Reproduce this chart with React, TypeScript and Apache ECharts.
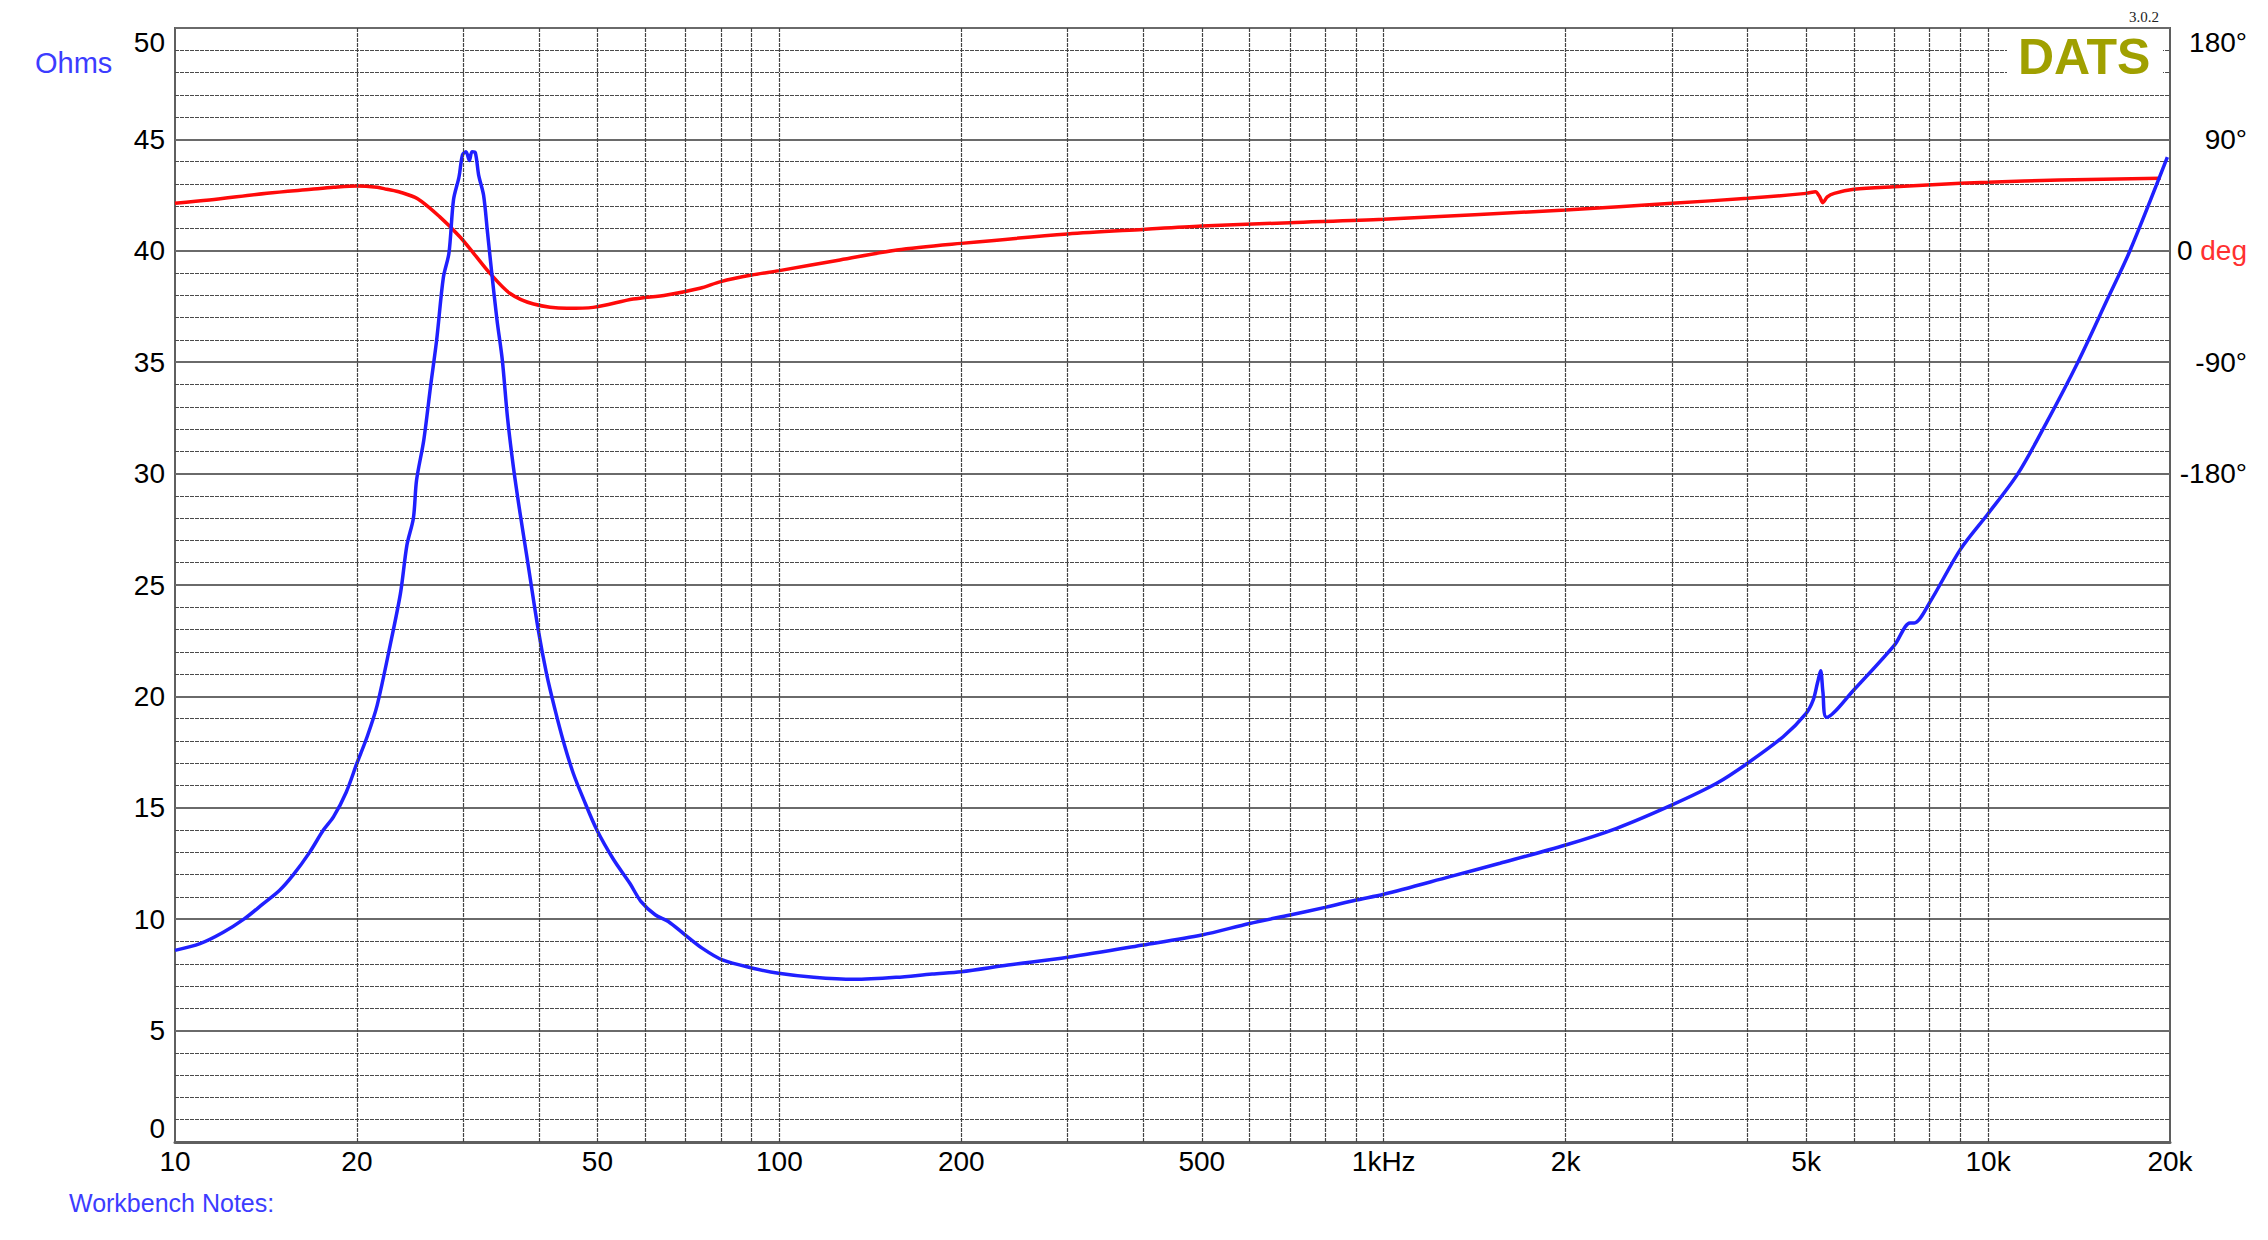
import React, { useEffect, useRef } from 'react';
import * as echarts from 'echarts';

// Impedance magnitude (blue), frequency in Hz and ohms
const IMP_FREQ = [10, 11, 12, 13, 14, 14.9, 15.7, 16.7, 17.6, 18.3, 19.2, 20, 20.8, 21.6, 22.7, 23.6, 24.2, 24.8, 25.1, 25.8, 26.5, 27.1, 27.8, 28.4, 28.9, 29.5, 29.9, 30.3, 30.7, 31.0, 31.4, 31.8, 32.4, 32.9, 33.4, 34.1, 34.8, 35.5, 36.3, 37.2, 38.2, 39.9, 41.2, 42.5, 43.9, 45.6, 47.4, 49.9, 53.1, 56.6, 59.0, 62.3, 65.5, 69.8, 74.5, 80.5, 90.4, 99.7, 114, 133, 156, 179, 200, 239, 300, 400, 500, 600, 700, 800, 900, 1000, 1287, 1557, 2000, 2429, 3000, 3556, 4000, 4581, 5000, 5137, 5220, 5284, 5330, 5405, 6000, 7000, 7424, 7550, 8000, 9000, 10000, 11205, 12500, 14080, 15740, 17170, 19800];
const IMP_OHMS = [8.6, 8.9, 9.4, 10.0, 10.7, 11.3, 12.0, 13.0, 14.0, 14.6, 15.7, 17.0, 18.2, 19.6, 22.3, 24.6, 26.8, 28.0, 29.7, 31.5, 34.0, 36.0, 38.8, 39.9, 42.3, 43.3, 44.3, 44.45, 44.05, 44.45, 44.4, 43.4, 42.5, 40.8, 39.1, 36.9, 35.1, 32.5, 30.3, 28.3, 26.3, 23.0, 21.0, 19.45, 18.0, 16.55, 15.4, 14.0, 12.7, 11.6, 10.8, 10.2, 9.9, 9.3, 8.7, 8.17, 7.8, 7.57, 7.39, 7.30, 7.39, 7.54, 7.64, 7.94, 8.29, 8.84, 9.29, 9.81, 10.19, 10.53, 10.86, 11.12, 11.91, 12.51, 13.33, 14.08, 15.13, 16.1, 17.0, 18.19, 19.24, 19.84, 20.6, 21.15, 20.2, 19.06, 20.3, 22.3, 23.3, 23.3, 24.2, 26.6, 28.2, 30.0, 32.3, 35.0, 37.8, 40.0, 44.2];

// Phase (red), frequency in Hz and degrees
const PH_FREQ = [10, 11.4, 14.2, 16.8, 18.3, 20, 21.6, 22.4, 23.6, 25.2, 27.4, 29.6, 31.2, 33.2, 35.8, 39.2, 44.5, 49.2, 57.3, 65.1, 73.9, 80, 90, 100, 126, 156.5, 200, 300, 400, 500, 700, 1000, 2000, 3000, 4000, 5000, 5181, 5260, 5331, 5420, 5566, 6000, 7000, 9000, 10000, 13120, 19300];
const PH_DEG = [38.4, 41.0, 46.5, 49.7, 51.3, 52.4, 51.3, 49.7, 47.3, 42.0, 27.6, 11.4, -2.0, -18.2, -34.3, -43.0, -46.5, -45.7, -39.0, -35.7, -30.3, -24.9, -19.6, -16.0, -7.4, 0.6, 6.0, 13.6, 17.3, 20.0, 22.7, 25.4, 33.0, 38.4, 42.4, 46.4, 47.8, 44.0, 38.9, 43.5, 46.4, 49.7, 51.8, 54.5, 55.3, 57.2, 58.6];

// Axis ticks
const GRID_FREQS = [20, 30, 40, 50, 60, 70, 80, 90, 100, 200, 300, 400, 500, 600, 700, 800, 900, 1000, 2000, 3000, 4000, 5000, 6000, 7000, 8000, 9000, 10000];
const X_TICK_FREQS = [10, 20, 50, 100, 200, 500, 1000, 2000, 5000, 10000, 20000];
const X_TICK_LABELS = ['10', '20', '50', '100', '200', '500', '1kHz', '2k', '5k', '10k', '20k'];
const PHASE_TICKS = [180, 90, 0, -90, -180];

const FONT = '"Liberation Sans", Arial, Helvetica, sans-serif';

export default function App() {
  const ref = useRef<HTMLDivElement>(null);
  useEffect(() => {
    const chart = echarts.init(ref.current as HTMLDivElement, null, { renderer: 'svg' });
    chart.setOption({
      animation: false,
      backgroundColor: '#ffffff',
      grid: {
        left: 175, right: 98, top: 28, bottom: 98,
        show: true, borderColor: '#5f5f5f', borderWidth: 2, backgroundColor: 'transparent',
      },
      xAxis: {
        type: 'log', logBase: 10, min: 10, max: 20000,
        axisLine: { show: true, lineStyle: { color: '#5f5f5f', width: 3 } },
        axisTick: { show: false },
        axisLabel: { show: false },
        splitLine: { show: false },
      },
      yAxis: [
        {
          type: 'value', min: 0, max: 50, interval: 5, position: 'left',
          axisLine: { show: false }, axisTick: { show: false },
          axisLabel: {
            fontSize: 28, color: '#000', fontFamily: FONT, margin: 10,
            verticalAlignMaxLabel: 'top', verticalAlignMinLabel: 'bottom',
          },
          splitLine: { show: true, lineStyle: { color: '#6a6a6a', width: 2 } },
          minorTick: { show: false, splitNumber: 5 },
          minorSplitLine: { show: true, lineStyle: { color: '#4a4a4a', width: 1.2, type: [4, 1] } },
        },
        {
          type: 'value', min: -720, max: 180, interval: 90, position: 'right',
          axisLine: { show: false }, axisTick: { show: false }, splitLine: { show: false },
          axisLabel: {
            fontSize: 28, color: '#000', fontFamily: FONT, align: 'right', margin: 77,
            verticalAlignMaxLabel: 'top',
            formatter: (v: number) => (PHASE_TICKS.indexOf(v) >= 0 ? (v === 0 ? '0 {r|deg}' : v + '°') : ''),
            rich: { r: { color: '#ff3030', fontSize: 28, fontFamily: FONT } },
          },
        },
      ],
      series: [
        {
          type: 'line', name: 'vgrid', data: [], silent: true, z: 1,
          markLine: {
            silent: true, symbol: ['none', 'none'], animation: false,
            label: { show: false },
            lineStyle: { color: '#444', width: 1.2, type: [4, 1] },
            emphasis: { disabled: true },
            data: GRID_FREQS.map((f) => ({ xAxis: f })),
          },
        },
        {
          type: 'line', name: 'xlabels', data: [], silent: true, z: 1,
          markLine: {
            silent: true, symbol: ['none', 'none'], animation: false,
            lineStyle: { color: 'rgba(0,0,0,0)', width: 0 },
            label: {
              show: true, position: 'start', distance: 5, formatter: '{b}',
              fontSize: 28, color: '#000', fontFamily: FONT,
            },
            emphasis: { disabled: true },
            data: X_TICK_FREQS.map((f, i) => ({ xAxis: f, name: X_TICK_LABELS[i] })),
          },
        },
        {
          type: 'line', name: 'Phase', yAxisIndex: 1, z: 3,
          data: PH_FREQ.map((f, i) => [f, PH_DEG[i]]),
          symbol: 'none', showSymbol: false, smooth: 0.3,
          lineStyle: { color: '#ff0a0a', width: 3.5 },
        },
        {
          type: 'line', name: 'Impedance', yAxisIndex: 0, z: 4,
          data: IMP_FREQ.map((f, i) => [f, IMP_OHMS[i]]),
          symbol: 'none', showSymbol: false, smooth: 0.3,
          lineStyle: { color: '#2020ff', width: 3.5 },
        },
      ],
      graphic: [
        { type: 'text', x: 35, y: 63, z: 10, style: { text: 'Ohms', fill: '#3c3cff', fontSize: 29, fontFamily: FONT, align: 'left', verticalAlign: 'middle' } },
        { type: 'text', x: 69, y: 1203, z: 10, style: { text: 'Workbench Notes:', fill: '#3c3cff', fontSize: 25, fontFamily: FONT, align: 'left', verticalAlign: 'middle' } },
        { type: 'rect', z: 10, shape: { x: 2007, y: 31, width: 156, height: 50 }, style: { fill: '#ffffff' } },
        { type: 'text', x: 2018, y: 57, z: 11, style: { text: 'DATS', fill: '#a0a000', fontSize: 50, fontWeight: 'bold', fontFamily: FONT, align: 'left', verticalAlign: 'middle' } },
        { type: 'text', x: 2129, y: 17, z: 11, style: { text: '3.0.2', fill: '#222', fontSize: 15, fontFamily: '"Liberation Serif", "Times New Roman", serif', align: 'left', verticalAlign: 'middle' } },
      ],
    });
    return () => chart.dispose();
  }, []);
  return <div ref={ref} style={{ position: 'fixed', left: 0, top: 0, width: 2268, height: 1240, background: '#fff' }} />;
}
